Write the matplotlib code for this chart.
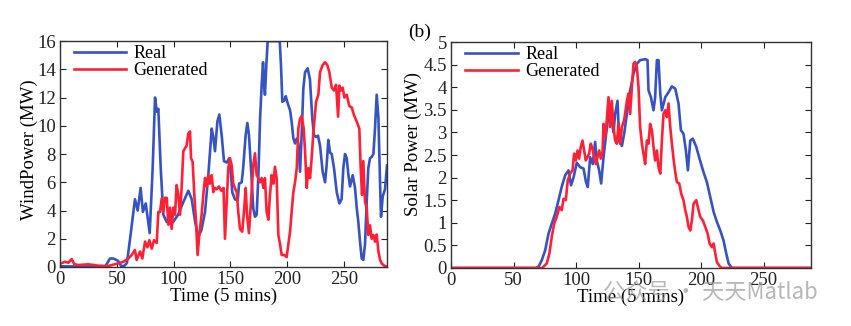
import matplotlib
matplotlib.use("Agg")
import matplotlib.pyplot as plt

# ---- wind power (MW), time in 5-min steps ----
wind_real_t = [0, 20, 40, 44, 47, 51, 54, 57, 59, 62.5,
               66, 68.4, 71, 73, 75.5, 79, 81.6, 83.7, 85.2, 86.6,
               88.7, 91, 94, 98, 104, 108.6, 113, 116, 119, 121.8,
               124.5, 127.7, 130.6, 133.6, 135, 136.5, 138.6, 140.3, 142.4, 144.4,
               146.8, 149, 150.6, 151.7, 154, 156.5, 157.7, 160, 161.3, 163.5,
               165, 166.4, 168.2, 170.2, 171.7, 173.2, 174.7, 176.2, 177.6, 178.8,
               179.7, 180.5, 181.7, 182.9, 186, 190, 193.5, 194.6, 195.8, 197.6,
               198.8, 200.5, 202.6, 204, 205.5, 207, 208.5, 209.9, 211.4, 212.8,
               214.3, 215.8, 218.1, 220.1, 222.2, 223.7, 225.5, 227.2, 229, 231.3,
               233.4, 234.8, 236.3, 237.8, 239.3, 241.3, 243.7, 246, 248, 249.5,
               251, 252.5, 254, 255.4, 257.8, 259.8, 261.3, 262.7, 264.2, 265.7,
               267.1, 268.6, 270.1, 271.5, 273, 274.5, 276, 277.4, 278.9, 280.4,
               281.9, 282.7, 284.2, 286.2, 288]
wind_real = [0.05, 0.03, 0.05, 0.6, 0.6, 0.45, 0.05, 0.1, 0.3, 2.5,
             4.8, 4.0, 5.6, 3.9, 4.5, 2.4, 7.0, 12.0, 11.0, 11.2,
             7.0, 3.7, 3.2, 3.0, 3.7, 4.6, 5.4, 4.8, 3.2, 2.15,
             2.6, 3.9, 6.5, 9.8, 9.2, 8.2, 10.3, 10.8, 9.3, 7.5,
             7.4, 7.7, 6.5, 5.3, 4.8, 4.7, 5.9, 6.0, 7.0, 9.35,
             10.2, 9.35, 7.0, 4.15, 3.56, 3.7, 6.5, 10.5, 12.9, 14.5,
             12.9, 12.2, 14.3, 16.0, 16.0, 16.0, 16.0, 14.3, 11.7, 11.8,
             12.1, 11.6, 11.1, 10.3, 9.1, 8.75, 9.1, 8.75, 6.75, 9.35,
             12.65, 13.8, 14.07, 13.3, 10.5, 9.35, 9.2, 9.3, 8.6, 6.75,
             6.0, 7.2, 9.0, 8.1, 8.0, 7.0, 5.3, 4.5, 4.8, 7.0,
             8.0, 7.7, 6.5, 5.7, 6.5, 5.6, 4.2, 3.2, 1.8, 0.6,
             0.5, 1.6, 4.6, 7.0, 7.7, 7.8, 8.0, 9.8, 12.2, 10.6,
             5.8, 3.56, 5.0, 5.5, 7.2]

wind_gen_t = [0, 1, 4.4, 7.3, 10.3, 12.6, 16.1, 24.9, 33.7, 42.5,
              51.4, 55.8, 60.2, 63.1, 66, 67.5, 70.5, 72.5, 74.9, 77,
              78.7, 80.8, 82.8, 85.2, 86.6, 88.1, 89.6, 91, 92.5, 94,
              95.4, 96.9, 98.3, 99.8, 101.3, 102.7, 104.2, 105.7, 107.1, 108.6,
              110, 111.5, 113, 114.5, 115.4, 116.8, 118.3, 119.8, 121.2, 122.7,
              124.7, 126.2, 127.7, 129.1, 130.6, 132, 133.6, 135, 136.5, 138,
              140, 142, 144, 145.3, 146.8, 148.2, 149.7, 151.2, 152.6, 154,
              155.6, 157, 158.5, 160.5, 162.3, 163.5, 164.7, 166.4, 168.2, 170.2,
              171.7, 173.2, 174.7, 176.2, 177.6, 179.1, 180.5, 182, 183.5, 184.9,
              186.4, 187.9, 189.3, 190.8, 192.3, 193.8, 195.2, 197.6, 199.6, 201.1,
              202.6, 204, 205.5, 207, 208.5, 209.9, 211.4, 212.8, 214.6, 215.8,
              217.3, 218.7, 220.2, 221.7, 223.1, 225.5, 227.5, 229, 231.3, 233.4,
              235.4, 237.2, 239.3, 241.3, 243.1, 244.9, 246, 247.5, 249, 250.4,
              252.5, 254.8, 256.9, 258.9, 261.3, 263.6, 264.8, 266, 267.1, 268.6,
              270.1, 271.5, 273, 274.5, 276, 277.4, 278.9, 280.4, 281.9, 283.3,
              285.4, 287.7]
wind_gen = [0.25, 0.26, 0.37, 0.3, 0.56, 0.2, 0.14, 0.19, 0.09, 0.07,
            0.26, 0.37, 0.6, 0.85, 1.2, 0.5, 1.1, 0.6, 1.8, 1.4,
            1.9, 1.3, 1.9, 1.7, 3.9, 3.9, 4.86, 3.9, 4.9, 4.9,
            3.0, 4.2, 2.7, 4.2, 3.7, 5.8, 5.1, 3.7, 5.6, 8.2,
            8.4, 8.6, 9.45, 9.6, 7.7, 7.45, 5.1, 3.2, 0.85, 2.3,
            3.7, 5.1, 6.3, 5.7, 6.5, 5.9, 6.5, 5.3, 5.6, 5.5,
            5.7, 5.4, 5.6, 2.0, 4.6, 7.0, 7.7, 7.2, 5.9, 5.6,
            5.3, 3.9, 2.7, 2.5, 4.2, 5.6, 3.7, 2.4, 4.6, 7.2,
            8.05, 6.5, 6.3, 6.0, 6.3, 5.6, 6.3, 3.9, 3.35, 5.1,
            6.5, 5.9, 7.1, 6.3, 2.27, 1.6, 0.85, 0.85, 0.7, 1.6,
            2.5, 3.9, 5.3, 6.0, 7.0, 9.8, 10.5, 10.7, 9.8, 8.2,
            5.6, 7.0, 6.3, 7.8, 9.5, 11.7, 12.2, 13.8, 14.3, 14.5,
            14.3, 13.8, 12.7, 12.5, 12.9, 10.65, 12.85, 12.5, 12.7, 12.0,
            12.2, 11.4, 11.3, 10.76, 10.3, 9.8, 7.0, 5.1, 7.5, 4.6,
            4.2, 2.27, 2.95, 2.0, 2.27, 1.8, 2.3, 1.1, 0.5, 0.25,
            0.1, 0.03]

# ---- solar power (MW) ----
solar_real_t = [0, 68, 70, 72.6, 75.3, 78, 80.6, 83.3, 86, 88.6,
                91.3, 94, 96, 98, 100.6, 103.3, 106, 108, 109.4, 111.3,
                113.4, 115.3, 116.6, 118.5, 120.1, 122, 124.1, 126, 127.9, 130,
                131.3, 133.2, 134.5, 136.7, 138.5, 140.7, 143.3, 146, 148.7, 151.3,
                155.3, 157.2, 158, 159.9, 162, 163.3, 164.7, 166, 167.4, 168.7,
                171.4, 174, 176.7, 179.4, 182, 183.9, 186, 187.9, 189.5, 191.4,
                193.5, 196.2, 198.8, 202, 204.7, 207.4, 210.1, 212.7, 215.4, 218,
                220.2, 222.1, 224.7, 288]
solar_real = [0, 0, 0.03, 0.17, 0.39, 0.76, 0.98, 1.2, 1.5, 1.8,
              2.05, 2.16, 1.83, 2.0, 2.33, 2.23, 2.2, 1.9, 1.79, 2.45,
              2.3, 2.79, 2.38, 2.16, 1.87, 2.45, 2.97, 3.38, 3.38, 3.0,
              3.41, 3.7, 2.82, 2.7, 2.97, 3.41, 3.93, 4.3, 4.52, 4.6,
              4.62, 4.6, 3.93, 3.78, 3.49, 3.78, 4.6, 4.6, 3.86, 3.49,
              3.78, 3.89, 4.02, 3.97, 3.64, 3.05, 2.97, 2.6, 2.16, 2.82,
              2.86, 2.68, 2.42, 2.12, 1.9, 1.57, 1.24, 1.02, 0.83, 0.61,
              0.32, 0.1, 0, 0]

solar_gen_t = [0, 73, 76.6, 78.7, 80.6, 82.5, 84.6, 86.7, 88.6, 90,
               91.8, 93.4, 95.3, 97.2, 98.5, 99.8, 101.2, 102.5, 103.8, 105.2,
               106.5, 107.8, 109.2, 110.5, 111.8, 113.2, 114.5, 115.8, 117.2, 118.5,
               119.8, 121.2, 122, 123.3, 124.6, 126, 127.3, 128.6, 130, 131.3,
               132.7, 134, 135.3, 136.7, 138.5, 140.7, 142, 143.3, 144.7, 146,
               147.3, 148.7, 150, 151.3, 152.7, 154, 155.3, 156.7, 158, 159.3,
               160.7, 162, 163.3, 164.7, 166, 167.4, 168.7, 170, 171.4, 172.7,
               174, 175.4, 176.7, 178, 179.4, 180.7, 182.6, 184.2, 186, 187.4,
               188.7, 190, 191.4, 192.7, 194, 196.2, 198, 199.4, 201.5, 203.4,
               205.3, 206.9, 208.7, 210.1, 211.4, 212.7, 214.9, 216.7, 288]
solar_gen = [0, 0, 0.1, 0.32, 0.69, 0.98, 1.13, 1.35, 1.28, 1.53,
             1.5, 1.94, 2.09, 2.16, 2.53, 2.38, 2.6, 2.42, 2.68, 2.82,
             2.6, 2.38, 2.45, 2.53, 2.75, 2.64, 2.45, 2.3, 2.45, 2.6,
             2.42, 2.57, 3.19, 2.9, 3.27, 3.78, 3.12, 3.7, 3.12, 2.82,
             2.75, 3.19, 2.75, 3.12, 3.27, 3.7, 3.86, 3.41, 4.0, 4.52,
             4.56, 4.45, 4.0, 3.12, 2.75, 2.53, 2.3, 2.82, 2.75, 3.19,
             3.05, 2.68, 2.38, 2.6, 2.23, 2.09, 2.82, 3.41, 3.49, 3.34,
             3.64, 3.12, 2.75, 2.42, 2.12, 1.9, 1.87, 1.64, 1.5, 1.28,
             1.13, 0.91, 0.83, 1.05, 1.42, 1.5, 1.28, 1.13, 1.05, 0.91,
             0.76, 0.54, 0.46, 0.54, 0.32, 0.13, 0.04, 0, 0]

x_ticks = [0, 50, 100, 150, 200, 250]
wind_yticks = [0, 2, 4, 6, 8, 10, 12, 14, 16]
solar_yticks = [0, 0.5, 1, 1.5, 2, 2.5, 3, 3.5, 4, 4.5, 5]
solar_ylabels = ["0", "0.5", "1", "1.5", "2", "2.5", "3", "3.5", "4", "4.5", "5"]

BLUE = "#3553c2"
RED = "#ff2035"

plt.rcParams["font.family"] = ["Liberation Serif", "DejaVu Serif"]
plt.rcParams["font.size"] = 13.5

fig = plt.figure(figsize=(8.51, 3.26), dpi=100)
ax1 = fig.add_axes([0.0705, 0.181, 0.3843, 0.693])
ax2 = fig.add_axes([0.530, 0.178, 0.423, 0.693])


def style(ax):
    ax.tick_params(direction="in", top=True, right=True, length=4, width=0.8,
                   labelsize=13.5, pad=3, colors="#222222")
    for sp in ax.spines.values():
        sp.set_color("#333333")
        sp.set_linewidth(1.0)
    ax.set_xlim(0, 288)
    ax.set_xticks(x_ticks)
    ax.set_xlabel("Time (5 mins)", fontsize=13.5, labelpad=0)


ax1.plot(wind_real_t, wind_real, color=BLUE, lw=1.9, label="Real")
ax1.plot(wind_gen_t, wind_gen, color=RED, lw=1.9, label="Generated")
style(ax1)
ax1.set_ylim(0, 16)
ax1.set_yticks(wind_yticks)
ax1.set_ylabel("WindPower (MW)", fontsize=13.5)
ax1.yaxis.set_label_coords(-0.067, 0.52)
ax1.legend(loc="upper left", frameon=False, fontsize=13, handlelength=2.9,
           handletextpad=0.4, labelspacing=0.0, borderaxespad=0.2,
           bbox_to_anchor=(0.01, 1.03))

ax2.plot(solar_real_t, solar_real, color=BLUE, lw=1.9, label="Real")
ax2.plot(solar_gen_t, solar_gen, color=RED, lw=1.9, label="Generated")
style(ax2)
ax2.set_ylim(0, 5)
ax2.set_yticks(solar_yticks)
ax2.set_yticklabels(solar_ylabels)
ax2.set_ylabel("Solar Power (MW)", fontsize=13.5)
ax2.yaxis.set_label_coords(-0.08, 0.55)
ax2.legend(loc="upper left", frameon=False, fontsize=13, handlelength=2.9,
           handletextpad=0.4, labelspacing=0.0, borderaxespad=0.2,
           bbox_to_anchor=(0.01, 1.03))

fig.text(420 / 851, 1 - 32 / 326, "(b)", ha="center", va="center", fontsize=14)

# watermark
fig.text(603 / 851, 1 - 292 / 326, "公众号 · 天天Matlab", ha="left", va="center",
         fontsize=16, color="#9a9a9a", alpha=0.7,
         family=["Noto Sans CJK SC", "DejaVu Sans"])

fig.savefig("out.png", dpi=100)
